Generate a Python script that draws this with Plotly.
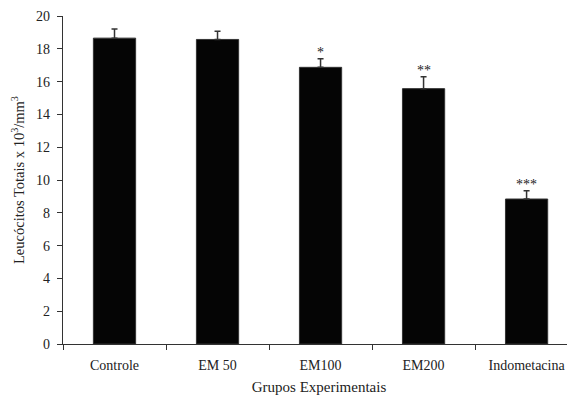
import plotly.graph_objects as go

categories = ["Controle", "EM 50", "EM100", "EM200", "Indometacina"]
values = [18.65, 18.57, 16.87, 15.57, 8.84]
errors = [0.55, 0.5, 0.53, 0.73, 0.5]
signif = ["", "", "*", "**", "***"]

fig = go.Figure()
fig.add_trace(go.Bar(
    x=categories, y=values, width=0.41,
    marker=dict(color="#050505", line=dict(color="#333333", width=1)),
    error_y=dict(type="data", array=errors, symmetric=False, arrayminus=[0]*5,
                 color="#333333", thickness=1.5, width=3, visible=True),
))

for c, v, e, s in zip(categories, values, errors, signif):
    if s:
        fig.add_annotation(x=c, y=v + e, text=s, showarrow=False, yanchor="bottom",
                           yshift=-3, font=dict(family="Liberation Serif", size=14, color="#222"))

fig.add_annotation(xref="paper", yref="paper", x=(10 - 55) / 512, y=0.5,
                   text="Leucócitos Totais x 10<sup>3</sup>/mm<sup>3</sup>", textangle=-90,
                   showarrow=False, xanchor="center", yanchor="middle",
                   font=dict(family="Liberation Serif", size=14.5, color="#222"))

fig.update_layout(
    width=567, height=392,
    margin=dict(l=55, r=0, t=8, b=56),
    paper_bgcolor="white", plot_bgcolor="white",
    showlegend=False,
    font=dict(family="Liberation Serif", size=14, color="#222"),
    xaxis=dict(type="category", range=[-0.5, 4.47], tickson="boundaries",
               ticks="outside", ticklen=5, tickcolor="#333", showline=True,
               linecolor="#333", linewidth=1.2, showgrid=False,
               tickfont=dict(size=14), ticklabelstandoff=8,
               title=dict(text="Grupos Experimentais", standoff=9,
                          font=dict(family="Liberation Serif", size=15))),
    yaxis=dict(range=[0, 20], dtick=2, ticks="outside", ticklen=5, tickcolor="#333",
               showline=True, linecolor="#333", linewidth=1.2, showgrid=False,
               zeroline=False, tickfont=dict(size=14), ticklabelstandoff=4),
)

fig.write_html("out.html")
